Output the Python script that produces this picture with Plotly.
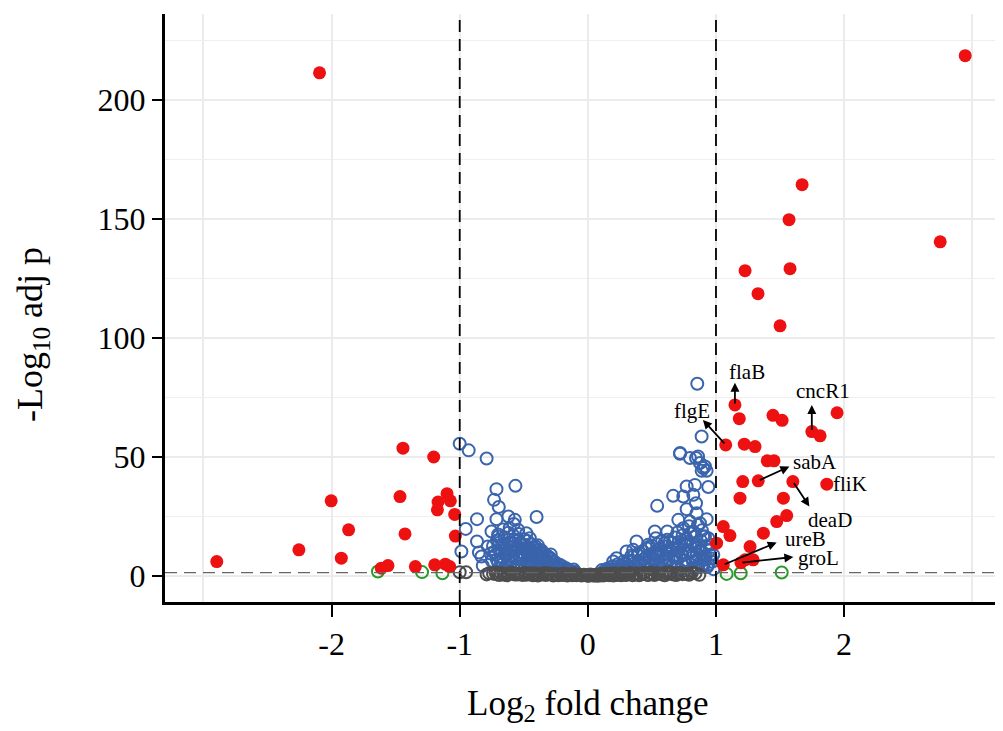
import plotly.graph_objects as go

# ---------------- data ----------------
# significant (|log2FC| > 1, padj significant) - red filled
up_x = [2.945, 2.75, 1.672, 1.57, 1.578, 1.227, 1.328, 1.50, 1.148, 1.182, 1.445, 1.516, 1.945,
        1.748, 1.8125, 1.076, 1.221, 1.305, 1.40, 1.453, 1.209, 1.33, 1.60, 1.865, 1.1875, 1.526,
        1.552, 1.474, 1.057, 1.109, 1.37, 1.005, 1.266, 1.057, 1.227, 1.195, 1.29]
up_y = [218.5, 140.3, 164.3, 149.6, 129.0, 128.2, 118.5, 105.0, 71.8, 66.0, 67.4, 65.3, 68.5,
        60.6, 58.8, 55.0, 55.3, 54.3, 48.3, 48.3, 39.6, 39.9, 39.6, 38.5, 32.6, 32.6,
        25.3, 22.8, 20.7, 16.9, 17.9, 13.7, 12.3, 4.6, 6.7, 5.5, 6.7]
down_x = [-2.094, -2.896, -2.255, -2.003, -1.867, -1.924, -1.612, -1.560, -1.443, -1.466, -1.427,
          -1.346, -1.203, -1.099, -1.169, -1.073, -1.174, -1.039, -1.034, -1.195, -1.112, -1.078]
down_y = [211.3, 6.0, 10.9, 31.5, 19.3, 7.4, 3.2, 4.3, 53.6, 33.3, 17.6,
          3.9, 49.9, 34.5, 31.0, 31.5, 27.7, 25.8, 16.7, 4.6, 4.9, 3.9]

# large fold change but not significant - green open
fc_x = [-1.638, -1.294, -1.135, 1.083, 1.193, 1.513]
fc_y = [1.8, 1.55, 1.1, 0.8, 1.1, 1.4]

# significant p, small fold change - blue open
p_x = [-1.0, -0.93, -0.79, -0.713, -0.565, -0.732, -0.695, -0.713, -0.865, -0.40, -0.62, -0.57,
       -0.953, -0.752, -0.865, -0.987, -0.85, -0.83, -0.82, -0.78, -0.578, -0.544, -0.48, -0.453,
       -0.70, -0.61,
       -0.74, -0.72, -0.71, -0.70, -0.69, -0.68, -0.67, -0.66, -0.65, -0.64, -0.63, -0.62, -0.61,
       -0.60, -0.59, -0.58, -0.57, -0.56, -0.55, -0.54, -0.53, -0.52, -0.51, -0.50, -0.49, -0.48,
       -0.47, -0.46, -0.45, -0.44, -0.43, -0.42, -0.41, -0.40, -0.39, -0.38, -0.37, -0.36, -0.35,
       -0.34, -0.33, -0.32, -0.31, -0.30, -0.29, -0.28, -0.27, -0.26, -0.25, -0.24, -0.23, -0.21,
       -0.20, -0.18, -0.16, -0.14, -0.12,
       -0.70, -0.66, -0.62, -0.58, -0.54, -0.50, -0.47, -0.44, -0.41, -0.38, -0.35, -0.32, -0.29,
       -0.26, -0.22, -0.68, -0.64, -0.60, -0.56, -0.52, -0.48, -0.45, -0.42, -0.39, -0.36,
       -0.73, -0.71, -0.69, -0.67, -0.65, -0.63, -0.61, -0.59, -0.57, -0.55, -0.53, -0.51, -0.49,
       -0.47, -0.46, -0.44, -0.43, -0.41, -0.40, -0.38, -0.37, -0.35, -0.34, -0.32, -0.31, -0.30,
       -0.28, -0.27, -0.25, -0.24, -0.22, -0.20, -0.19, -0.17, -0.15, -0.13, -0.11, -0.10, -0.75,
       -0.76, -0.62, -0.58, -0.54, -0.50, -0.46, -0.42, -0.39, -0.36, -0.33, -0.29,
       0.854, 0.888, 0.719, 0.797, 0.844, 0.875, 0.914, 0.90, 0.927, 0.888, 0.94, 0.836, 0.771,
       0.666, 0.745, 0.823, 0.541, 0.844, 0.771, 0.849, 0.706, 0.797, 0.927, 0.875, 0.523, 0.62,
       0.745, 0.823, 0.914, 0.38, 0.471, 0.64, 0.771, 0.875, 0.953, 0.302, 0.354, 0.537, 0.693,
       0.224, 0.198, 0.849, 0.72, 0.86, 0.979, 0.90,
       0.12, 0.14, 0.16, 0.18, 0.20, 0.22, 0.24, 0.26, 0.27, 0.29, 0.30, 0.31, 0.33, 0.34, 0.35,
       0.36, 0.38, 0.39, 0.40, 0.41, 0.43, 0.44, 0.45, 0.46, 0.47, 0.48, 0.49, 0.50, 0.51, 0.52,
       0.53, 0.54, 0.55, 0.56, 0.57, 0.58, 0.59, 0.60, 0.61, 0.62, 0.63, 0.64, 0.65, 0.66, 0.67,
       0.68, 0.69, 0.70, 0.71, 0.72, 0.73, 0.74, 0.75, 0.76, 0.77, 0.78, 0.79, 0.80, 0.81, 0.82,
       0.83, 0.84, 0.85, 0.86, 0.87, 0.88, 0.89, 0.90, 0.91, 0.92, 0.93, 0.94, 0.95, 0.96,
       0.11, 0.13, 0.15, 0.17, 0.19, 0.21, 0.23, 0.25, 0.28, 0.32, 0.34, 0.37, 0.40, 0.42, 0.44,
       0.46, 0.48, 0.50, 0.52, 0.54, 0.56, 0.58, 0.60, 0.62, 0.64, 0.66, 0.68, 0.70, 0.72, 0.74,
       0.76, 0.78, 0.80, 0.82, 0.84, 0.86, 0.88, 0.90, 0.92, 0.94, 0.96, 0.97, 0.98, 0.53, 0.70,
       0.79, 0.86, 0.63, 0.81, 0.89]
p_y = [55.5, 52.7, 49.3, 36.4, 37.8, 31.9, 28.9, 23.8, 23.8, 24.7, 24.9, 23.5,
       19.7, 18.6, 14.4, 10.2, 9.8, 8.1, 4.2, 12.3, 21.8, 19.3, 17.9, 15.8,
       16.5, 20.0,
       12.5, 8.9, 14.8, 5.6, 10.7, 3.2, 13.1, 7.4, 16.2, 11.3, 4.8, 9.6, 14.1,
       6.9, 12.2, 2.9, 15.3, 8.3, 11.6, 5.1, 13.7, 9.8, 7.2, 12.9, 3.8, 10.4,
       6.3, 11.8, 8.7, 4.4, 9.9, 7.6, 2.6, 10.8, 5.7, 8.2, 3.5, 7.9, 6.1,
       4.9, 2.4, 6.6, 3.9, 5.3, 2.1, 4.6, 3.2, 2.7, 4.1, 2.3, 3.4, 2.8,
       1.9, 2.5, 1.8, 2.1, 1.6,
       17.4, 19.5, 18.1, 16.8, 17.6, 15.4, 14.6, 13.2, 12.4, 11.1, 9.4, 8.6, 7.1,
       5.8, 4.7, 6.2, 3.9, 10.1, 4.2, 2.7, 5.5, 2.9, 5.0, 3.1, 2.2,
       10.1, 6.8, 13.9, 4.6, 9.1, 12.8, 3.6, 8.0, 10.9, 3.9, 7.0, 11.4, 8.4,
       3.1, 9.3, 6.6, 11.9, 8.8, 4.0, 6.9, 9.7, 3.7, 7.3, 5.0, 2.8, 7.8,
       3.6, 6.2, 2.4, 5.1, 3.0, 4.0, 2.6, 3.2, 2.4, 1.9, 2.6, 1.7, 6.3,
       9.4, 6.1, 13.6, 14.9, 9.3, 4.9, 2.5, 12.8, 10.6, 4.3, 9.0,
       80.7, 58.5, 51.3, 49.5, 49.5, 47.4, 45.9, 45.3, 44.1, 44.1, 37.3, 38.2, 37.5,
       33.6, 33.3, 34.0, 29.4, 30.5, 28.0, 26.3, 23.5, 22.8, 23.8, 22.1, 18.6, 18.6,
       20.0, 18.6, 16.5, 14.4, 13.0, 14.4, 13.0, 10.9, 8.8, 10.2, 10.9, 9.5, 8.8,
       7.4, 6.0, 6.7, 51.6, 50.1, 8.8, 3.9,
       1.7, 2.2, 1.9, 2.8, 2.3, 3.6, 2.6, 4.4, 3.1, 5.2, 2.4, 4.0, 6.3, 3.3, 7.9,
       5.1, 2.8, 8.8, 6.0, 4.1, 10.3, 7.2, 3.6, 11.5, 5.4, 8.9, 2.9, 12.6, 6.7, 9.9,
       4.2, 13.4, 7.8, 11.1, 3.4, 14.6, 9.0, 5.6, 12.3, 15.2, 7.0, 10.5, 3.9, 13.8, 8.4,
       16.1, 5.9, 11.7, 14.2, 2.6, 9.3, 17.0, 6.5, 12.8, 15.6, 4.3, 10.1, 17.9, 7.6, 13.5,
       3.1, 16.4, 8.8, 11.9, 5.2, 14.9, 19.1, 9.7, 6.8, 12.5, 3.7, 15.8, 10.6, 7.3,
       2.4, 1.6, 3.0, 2.1, 3.9, 1.9, 4.8, 2.9, 6.1, 3.7, 8.5, 4.4, 9.6, 2.4, 5.7,
       8.1, 12.2, 4.6, 7.1, 10.8, 2.7, 6.3, 13.7, 9.4, 4.7, 11.6, 7.7, 3.3, 12.9, 8.6,
       5.1, 14.3, 9.8, 6.0, 12.1, 3.5, 10.4, 16.6, 7.9, 4.8, 13.1, 5.9, 2.8, 15.8, 18.2,
       20.8, 21.3, 2.2, 2.1, 4.5]

# not significant - grey open
ns_x = [-1.0, -0.95, -0.77, -0.74, -0.71, -0.68, -0.65, -0.62, -0.60, -0.57, -0.54, -0.51, -0.49,
        -0.46, -0.43, -0.41, -0.38, -0.35, -0.33, -0.30, -0.28, -0.25, -0.23, -0.21, -0.19, -0.17,
        -0.15, -0.13, -0.11, -0.09, -0.07, -0.05, -0.03, -0.01, 0.01, 0.03, 0.05, 0.07, 0.09, 0.11,
        0.13, 0.15, 0.17, 0.19, 0.21, 0.23, 0.25, 0.27, 0.29, 0.32, 0.35, 0.38, 0.41, 0.44, 0.47,
        0.50, 0.54, 0.58, 0.61, 0.64, 0.67, 0.70, 0.74, 0.77, 0.81, 0.84, 0.87,
        -0.79, -0.72, -0.69, -0.66, -0.63, -0.58, -0.55, -0.52, -0.48, -0.45, -0.42, -0.39, -0.36,
        -0.34, -0.31, -0.27, -0.24, -0.20, -0.16, -0.12, -0.08, -0.04, 0.00, 0.02, 0.04, 0.06,
        0.08, 0.10, 0.12, 0.14, 0.16, 0.18, 0.20, 0.22, 0.24, 0.26, 0.28, 0.30, 0.33, 0.36,
        0.40, 0.43, 0.46, 0.49, 0.52, 0.56, 0.60, 0.63, 0.69, 0.72, 0.79]
ns_y = [1.5, 1.5, 1.1, 0.9, 0.6, 1.2, 0.4, 0.9, 1.3, 0.5, 1.0, 0.3, 1.2,
        0.7, 0.2, 1.1, 0.6, 0.9, 0.3, 1.0, 0.5, 0.8, 0.2, 0.6, 1.0, 0.3,
        0.7, 0.4, 0.9, 0.2, 0.5, 0.1, 0.4, 0.2, 0.1, 0.3, 0.2, 0.5, 0.3, 0.8,
        0.4, 0.9, 0.2, 0.6, 1.0, 0.3, 0.7, 1.1, 0.4, 0.8, 0.2, 1.0, 0.5, 1.2, 0.3,
        0.9, 1.1, 0.6, 1.3, 1.4, 0.5, 1.0, 0.7, 0.8, 1.2, 1.1, 0.4,
        0.6, 1.3, 0.3, 0.8, 0.2, 1.1, 0.5, 0.9, 0.4, 1.1, 0.6, 0.1, 0.5,
        1.2, 0.6, 0.1, 0.5, 0.3, 0.1, 0.2, 0.4, 0.3, 0.0, 0.5, 0.1, 0.1,
        0.0, 0.2, 0.1, 0.6, 0.4, 0.9, 0.1, 0.6, 0.9, 0.2, 0.8, 0.3, 1.2, 0.6,
        0.2, 0.8, 0.5, 1.3, 0.3, 0.9, 0.2, 0.8, 0.3, 1.2, 0.4]

# labelled genes: name, point (x, y), arrow head (x, y) or None, label position (x, y)
gene_names = ["flaB", "cncR1", "flgE", "sabA", "fliK", "deaD", "ureB", "groL"]
gene_pt_x = [1.148, 1.748, 1.076, 1.33, 1.865, 1.60, 1.057, 1.195]
gene_pt_y = [71.8, 60.6, 55.0, 39.9, 38.5, 39.6, 4.6, 5.5]
gene_head_x = [1.148, 1.748, 0.898, 1.573, None, 1.729, 1.474, 1.604]
gene_head_y = [81.1, 71.8, 65.5, 45.9, None, 29.1, 14.0, 7.9]
gene_lab_x = [1.242, 1.836, 0.8125, 1.773, 2.047, 1.89, 1.695, 1.797]
gene_lab_y = [85.7, 77.7, 69.3, 47.9, 38.7, 23.5, 15.3, 7.6]

x_ticks = [-2, -1, 0, 1, 2]
y_ticks = [0, 50, 100, 150, 200]
fc_cut = 1
p_cut = 1.3

# ---------------- figure ----------------
RED = "#EE1111"
BLUE = "#3A64AC"
GREY = "#4D4D4D"
GREEN = "#2A9A2A"
FONT = "Liberation Serif"

fig = go.Figure()
fig.add_trace(go.Scatter(x=p_x, y=p_y, mode="markers",
                         marker=dict(symbol="circle-open", size=12, color=BLUE, line=dict(width=2, color=BLUE)),
                         hoverinfo="x+y"))
fig.add_trace(go.Scatter(x=ns_x, y=ns_y, mode="markers",
                         marker=dict(symbol="circle-open", size=12, color=GREY, line=dict(width=2, color=GREY)),
                         hoverinfo="x+y"))
fig.add_trace(go.Scatter(x=fc_x, y=fc_y, mode="markers",
                         marker=dict(symbol="circle-open", size=12, color=GREEN, line=dict(width=2, color=GREEN)),
                         hoverinfo="x+y"))
fig.add_trace(go.Scatter(x=up_x + down_x, y=up_y + down_y, mode="markers",
                         marker=dict(symbol="circle", size=13, color=RED, line=dict(width=0)),
                         hoverinfo="x+y"))

# threshold lines
for v in (-fc_cut, fc_cut):
    fig.add_shape(type="line", xref="x", yref="paper", x0=v, x1=v, y0=0, y1=1,
                  line=dict(color="black", width=1.8, dash="12px,7px"), layer="above")
fig.add_shape(type="line", xref="paper", yref="y", x0=0, x1=1, y0=p_cut, y1=p_cut,
              line=dict(color="#666666", width=1.2, dash="12px,7px"), layer="above")

# gene labels and arrows
for i, name in enumerate(gene_names):
    if gene_head_x[i] is not None:
        fig.add_annotation(x=gene_head_x[i], y=gene_head_y[i], ax=gene_pt_x[i], ay=gene_pt_y[i],
                           xref="x", yref="y", axref="x", ayref="y", text="", showarrow=True,
                           arrowhead=2, arrowsize=1, arrowwidth=1.8, arrowcolor="black")
    fig.add_annotation(x=gene_lab_x[i], y=gene_lab_y[i], xref="x", yref="y", text=name,
                       showarrow=False, font=dict(family=FONT, size=21, color="black"))

# axis titles
fig.add_annotation(x=0.505, y=-0.176, xref="paper", yref="paper", xanchor="center", yanchor="middle",
                   text="Log<sub>2</sub> fold change", showarrow=False,
                   font=dict(family=FONT, size=35, color="black"))
fig.add_annotation(x=-0.158, y=0.455, xref="paper", yref="paper", xanchor="center", yanchor="middle",
                   text="-Log<sub>10</sub> adj p", showarrow=False, textangle=-90,
                   font=dict(family=FONT, size=36, color="black"))

fig.update_layout(
    width=995, height=723,
    margin=dict(l=157, r=0, t=6, b=129),
    paper_bgcolor="white", plot_bgcolor="white",
    showlegend=False,
    font=dict(family=FONT, color="black"),
    xaxis=dict(range=[-3.30, 3.24], tickvals=x_ticks, ticktext=[str(t) for t in x_ticks],
               showgrid=True, gridcolor="#EBEBEB", gridwidth=1.5,
               minor=dict(dtick=1, tick0=0, showgrid=True, gridcolor="#EBEBEB", gridwidth=1.5),
               zeroline=False, showline=True, linecolor="black", linewidth=3,
               ticks="outside", ticklen=12, tickwidth=1.5, tickcolor="black",
               tickfont=dict(family=FONT, size=32, color="black")),
    yaxis=dict(range=[-11, 236], tickvals=y_ticks,
               showgrid=True, gridcolor="#EBEBEB", gridwidth=1.5,
               minor=dict(dtick=25, tick0=0, showgrid=True, gridcolor="#EFEFEF", gridwidth=1),
               zeroline=False, showline=True, linecolor="black", linewidth=3,
               ticks="outside", ticklen=10, tickwidth=1.5, tickcolor="black",
               tickfont=dict(family=FONT, size=32, color="black")),
)

fig.write_html("out.html")
